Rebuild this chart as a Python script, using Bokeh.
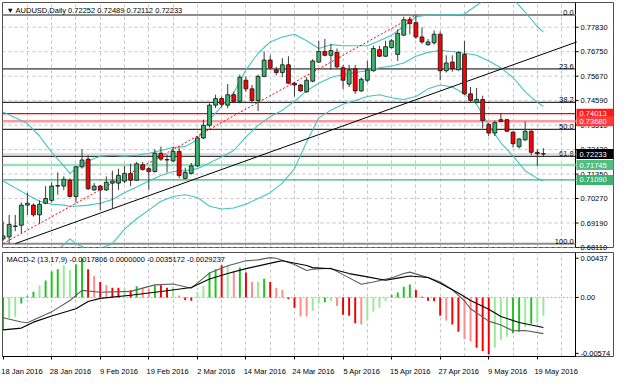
from bokeh.plotting import figure
from bokeh.layouts import column
from bokeh.models import (ColumnDataSource, FixedTicker, LinearAxis, Range1d, Grid,
                          Label, NumeralTickFormatter, CustomJSTickFormatter)
from bokeh.embed import file_html
from bokeh.resources import INLINE
from bokeh.core.properties import value

# ---------------- data ----------------
symbol = "AUDUSD,Daily"
date_labels = ["18 Jan 2016", "28 Jan 2016", "9 Feb 2016", "19 Feb 2016", "2 Mar 2016",
               "14 Mar 2016", "24 Mar 2016", "5 Apr 2016", "15 Apr 2016", "27 Apr 2016",
               "9 May 2016", "19 May 2016"]
date_label_bar = [0, 8, 16, 24, 32, 40, 48, 56, 64, 72, 80, 88]

open_ = [0.6849, 0.6858, 0.6904, 0.6909, 0.6998, 0.6998, 0.6955, 0.7006, 0.7019, 0.7082,
         0.7082, 0.7108, 0.7036, 0.7167, 0.7201, 0.7065, 0.7082, 0.7065, 0.7095, 0.7095,
         0.7104, 0.7138, 0.7108, 0.7176, 0.7159, 0.7146, 0.7227, 0.7197, 0.7193, 0.7235,
         0.7116, 0.7138, 0.7171, 0.7294, 0.7350, 0.7439, 0.7468, 0.7439, 0.7485, 0.7456,
         0.7549, 0.7511, 0.7460, 0.7566, 0.7638, 0.7595, 0.7583, 0.7617, 0.7536, 0.7528,
         0.7498, 0.7545, 0.7629, 0.7676, 0.7659, 0.7672, 0.7604, 0.7532, 0.7600, 0.7502,
         0.7549, 0.7591, 0.7684, 0.7655, 0.7693, 0.7663, 0.7748, 0.7816, 0.7803, 0.7740,
         0.7706, 0.7714, 0.7752, 0.7591, 0.7629, 0.7595, 0.7663, 0.7489, 0.7451, 0.7464,
         0.7354, 0.7316, 0.7375, 0.7375, 0.7320, 0.7256, 0.7286, 0.7324, 0.7231, 0.72252]
high = [0.6926, 0.6955, 0.6955, 0.7010, 0.7053, 0.7006, 0.7019, 0.7082, 0.7099, 0.7142,
        0.7125, 0.7116, 0.7171, 0.7244, 0.7218, 0.7095, 0.7087, 0.7125, 0.7150, 0.7159,
        0.7171, 0.7180, 0.7188, 0.7188, 0.7167, 0.7244, 0.7256, 0.7222, 0.7256, 0.7252,
        0.7163, 0.7184, 0.7303, 0.7375, 0.7447, 0.7485, 0.7477, 0.7532, 0.7498, 0.7574,
        0.7566, 0.7528, 0.7574, 0.7676, 0.7659, 0.7608, 0.7646, 0.7655, 0.7540, 0.7532,
        0.7562, 0.7642, 0.7723, 0.7731, 0.7710, 0.7689, 0.7617, 0.7617, 0.7617, 0.7562,
        0.7634, 0.7701, 0.7701, 0.7723, 0.7731, 0.7774, 0.7829, 0.7829, 0.7837, 0.7782,
        0.7731, 0.7769, 0.7765, 0.7659, 0.7659, 0.7676, 0.7723, 0.7519, 0.7515, 0.7481,
        0.7362, 0.7371, 0.7405, 0.7379, 0.7324, 0.7294, 0.7367, 0.7328, 0.7244, 0.72489]
low = [0.6841, 0.6828, 0.6883, 0.6875, 0.6955, 0.6947, 0.6917, 0.7002, 0.7010, 0.7044,
       0.7065, 0.7032, 0.7010, 0.7159, 0.7065, 0.7061, 0.6976, 0.7061, 0.6981, 0.7065,
       0.7095, 0.7082, 0.7104, 0.7150, 0.7065, 0.7142, 0.7193, 0.7142, 0.7188, 0.7116,
       0.7112, 0.7133, 0.7167, 0.7290, 0.7341, 0.7426, 0.7430, 0.7426, 0.7451, 0.7447,
       0.7498, 0.7447, 0.7413, 0.7562, 0.7595, 0.7570, 0.7562, 0.7532, 0.7477, 0.7498,
       0.7494, 0.7540, 0.7625, 0.7655, 0.7595, 0.7600, 0.7511, 0.7519, 0.7489, 0.7498,
       0.7540, 0.7587, 0.7651, 0.7651, 0.7689, 0.7634, 0.7744, 0.7752, 0.7731, 0.7710,
       0.7701, 0.7706, 0.7549, 0.7583, 0.7587, 0.7591, 0.7485, 0.7451, 0.7447, 0.7337,
       0.7303, 0.7303, 0.7367, 0.7320, 0.7252, 0.7248, 0.7282, 0.7218, 0.7171, 0.72112]
close = [0.6862, 0.6913, 0.6906, 0.6998, 0.7006, 0.6955, 0.7002, 0.7027, 0.7082, 0.7084,
         0.7112, 0.7036, 0.7167, 0.7197, 0.7070, 0.7082, 0.7065, 0.7099, 0.7104, 0.7129,
         0.7138, 0.7108, 0.7180, 0.7155, 0.7146, 0.7227, 0.7201, 0.7199, 0.7235, 0.7129,
         0.7142, 0.7171, 0.7294, 0.7350, 0.7439, 0.7468, 0.7443, 0.7485, 0.7456, 0.7562,
         0.7511, 0.7460, 0.7566, 0.7638, 0.7604, 0.7583, 0.7617, 0.7536, 0.7528, 0.7502,
         0.7549, 0.7634, 0.7676, 0.7659, 0.7680, 0.7608, 0.7549, 0.7595, 0.7502, 0.7553,
         0.7595, 0.7689, 0.7655, 0.7697, 0.7723, 0.7756, 0.7816, 0.7799, 0.7740, 0.7718,
         0.7718, 0.7752, 0.7591, 0.7625, 0.7600, 0.7672, 0.7489, 0.7460, 0.7464, 0.7371,
         0.7316, 0.7362, 0.7367, 0.7324, 0.7269, 0.7290, 0.7324, 0.7231, 0.7225, 0.72233]

# Bollinger band read-off (bar index, price)
band_bar = [0, 2, 4, 6, 8, 10, 11, 12, 14, 16, 18, 20, 22, 24, 26, 28, 30, 32, 34, 36,
            38, 40, 42, 44, 46, 48, 50, 52, 54, 56, 58, 60, 62, 64, 66, 68, 70, 72, 74, 76,
            78, 80, 82, 84, 86, 88, 89]
band_upper = [0.7409, 0.7383, 0.7358, 0.7303, 0.7231, 0.7171, 0.7138, 0.7159, 0.7193, 0.7214,
              0.7218, 0.7214, 0.7218, 0.7227, 0.7239, 0.7252, 0.7256, 0.7286, 0.7375, 0.7434,
              0.7494, 0.7595, 0.7668, 0.7718, 0.7740, 0.7752, 0.7723, 0.7689, 0.7706, 0.7701,
              0.7701, 0.7701, 0.7723, 0.7748, 0.7786, 0.7829, 0.7837, 0.7837, 0.7837, 0.7841,
              0.7880, 0.7913, 0.7935, 0.7909, 0.7850, 0.7786, 0.7761]
band_middle = [0.7104, 0.7074, 0.7044, 0.7015, 0.7002, 0.6998, 0.6993, 0.6993, 0.6998, 0.7006,
               0.7023, 0.7053, 0.7078, 0.7104, 0.7129, 0.7146, 0.7150, 0.7159, 0.7184, 0.7210,
               0.7239, 0.7299, 0.7350, 0.7388, 0.7417, 0.7456, 0.7502, 0.7536, 0.7561, 0.7574,
               0.7583, 0.7591, 0.7604, 0.7612, 0.7625, 0.7655, 0.7672, 0.7680, 0.7676, 0.7668,
               0.7659, 0.7634, 0.7604, 0.7561, 0.7498, 0.7451, 0.7434]
band_lower = [0.6798, 0.6764, 0.6731, 0.6726, 0.6773, 0.6824, 0.6849, 0.6828, 0.6803, 0.6807,
              0.6828, 0.6892, 0.6938, 0.6976, 0.7015, 0.7036, 0.7044, 0.7032, 0.6993, 0.6981,
              0.6985, 0.7002, 0.7027, 0.7053, 0.7095, 0.7159, 0.7277, 0.7383, 0.7417, 0.7443,
              0.7460, 0.7477, 0.7485, 0.7472, 0.7464, 0.7477, 0.7511, 0.7528, 0.7519, 0.7489,
              0.7443, 0.7350, 0.7273, 0.7214, 0.7150, 0.7116, 0.7104]

# Fibonacci retracement (low -> high)
fib_bar = [0, 68]
fib_price = [0.6828, 0.7837]
fib_levels = [0.0, 23.6, 38.2, 50.0, 61.8, 100.0]

# trend line anchors
trend_bar = [2, 94.5]
trend_price = [0.6828, 0.7718]

# horizontal levels with price tags
level_prices = [0.74013, 0.73680, 0.71745, 0.71090]
level_colors = ["#ff0000", "#ff9a9a", "#9edcbc", "#3cb371"]
level_widths = [1.3, 2.5, 2.5, 1.3]
tag_prices = [0.74013, 0.73680, 0.72233, 0.71745, 0.71090]
tag_colors = ["#ff1a1a", "#ff3c3c", "#000000", "#52bd80", "#3cb371"]

price_ticks = [0.68110, 0.69190, 0.70270, 0.71350, 0.72430, 0.73510, 0.74590, 0.75670,
               0.76750, 0.77830]
price_range = [0.6811, 0.7892]

# MACD-2 (13,17,9)
macd_params = "13,17,9"
macd_hist = [-0.00318, -0.00200, -0.00187, -0.00059, 0.00012, 0.00056, 0.00119, 0.00165, 0.00253, 0.00275,
             0.00312, 0.00268, 0.00321, 0.00378, 0.00275, 0.00212, 0.00150, 0.00119, 0.00094, 0.00094,
             0.00087, 0.00069, 0.00109, 0.00094, 0.00087, 0.00119, 0.00119, 0.00094, 0.00103, 0.00019,
             -0.00025, -0.00031, 0.00050, 0.00112, 0.00243, 0.00275, 0.00312, 0.00306, 0.00259, 0.00290,
             0.00243, 0.00150, 0.00150, 0.00181, 0.00150, 0.00094, 0.00072, -0.00016, -0.00100, -0.00184,
             -0.00184, -0.00131, -0.00059, -0.00047, -0.00031, -0.00084, -0.00168, -0.00178, -0.00250, -0.00262,
             -0.00225, -0.00137, -0.00100, -0.00037, 0.00025, 0.00047, 0.00103, 0.00125, 0.00072, 0.00006,
             -0.00031, -0.00037, -0.00178, -0.00225, -0.00262, -0.00334, -0.00406, -0.00427, -0.00490, -0.00521,
             -0.00552, -0.00490, -0.00412, -0.00381, -0.00349, -0.00334, -0.00287, -0.00256, -0.00240, -0.0017806]
macd_hist_kind = ["G", "g", "g", "G", "G", "G", "g", "G", "G", "G",
                  "g", "g", "G", "G", "R", "r", "R", "r", "R", "R",
                  "g", "R", "G", "r", "r", "G", "R", "R", "g", "r",
                  "R", "R", "g", "g", "G", "G", "R", "g", "r", "G",
                  "R", "r", "g", "G", "R", "r", "r", "R", "R", "r",
                  "r", "g", "g", "G", "g", "r", "R", "R", "R", "r",
                  "g", "g", "g", "g", "G", "G", "G", "G", "R", "R",
                  "R", "R", "R", "r", "R", "R", "r", "r", "R", "R",
                  "R", "g", "g", "g", "G", "G", "g", "G", "g", "g"]
macd_bar = [0, 3, 4, 8, 11, 13, 16, 21, 25, 28, 31, 34, 37, 40, 42, 44, 45, 48, 50, 51,
            54, 56, 59, 61, 64, 66, 67, 70, 72, 74, 76, 77, 80, 82, 84, 86, 89]
macd_line = [-0.00197, -0.00238, -0.00246, -0.00140, -0.00030, 0.00069, 0.00050, 0.00059, 0.00122, 0.00131,
             0.00090, 0.00237, 0.00309, 0.00356, 0.00365, 0.00387, 0.00381, 0.00320, 0.00262, 0.00275,
             0.00284, 0.00222, 0.00128, 0.00150, 0.00190, 0.00232, 0.00246, 0.00193, 0.00150, 0.00075,
             -0.00034, -0.00110, -0.00230, -0.00268, -0.00324, -0.00321, -0.0035172]
signal_bar = [0, 3, 5, 8, 12, 14, 16, 21, 26, 31, 34, 37, 40, 45, 46, 50, 51, 54, 57, 60,
              63, 65, 67, 70, 72, 75, 77, 80, 82, 85, 89]
signal_line = [-0.00315, -0.00298, -0.00240, -0.00180, -0.00110, -0.00040, -0.00009, 0.00022, 0.00058, 0.00097,
               0.00180, 0.00232, 0.00280, 0.00346, 0.00356, 0.00310, 0.00290, 0.00279, 0.00232, 0.00200,
               0.00168, 0.00188, 0.00208, 0.00194, 0.00138, 0.00044, -0.00030, -0.00115, -0.00185, -0.00243,
               -0.0029237]
macd_range = [-0.00574, 0.00437]
macd_axis_labels = ["-0.00574", "0.00", "0.00437"]

# ---------------- styling ----------------
FONT = "Liberation Sans"
FS = "7.5px"
X0, X1, X2 = -0.1, 94.3, 100.55      # chart area ends at X1; price-scale strip up to X2
FW = 611
GRID = "#c4c4c4"
BAND = "#43c3c3"
hist_colors = {"G": "#1cc41c", "g": "#98e898", "R": "#f00000", "r": "#ff8c8c"}
LABEL_STANDOFF = -33

n = len(close)
bars = list(range(n))
grid_bars = list(range(4, 93, 4))


def style_price_axis(ax, ticks, formatter):
    ax.ticker = FixedTicker(ticks=ticks)
    ax.formatter = formatter
    ax.major_label_text_font = FONT
    ax.major_label_text_font_size = FS
    ax.major_label_text_color = "black"
    ax.major_tick_line_color = None
    ax.major_tick_out = 0
    ax.major_tick_in = 0
    ax.minor_tick_line_color = None
    ax.axis_line_color = None
    ax.major_label_standoff = LABEL_STANDOFF


# ---------------- main price panel ----------------
p = figure(frame_width=FW, frame_height=245, x_range=Range1d(X0, X2),
           y_range=Range1d(price_range[0], price_range[1]),
           x_axis_location=None, y_axis_location="right",
           output_backend="svg", toolbar_location=None,
           min_border_left=2, min_border_top=2, min_border_bottom=5, min_border_right=1)
p.xgrid.visible = False
p.ygrid.visible = False
p.background_fill_color = "white"
p.border_fill_color = "white"
p.outline_line_color = "#505050"

p.add_layout(Grid(dimension=0, ticker=FixedTicker(ticks=grid_bars),
                  grid_line_color=GRID, grid_line_dash="3 3"))
p.segment(x0=X0, x1=X1, y0=price_ticks, y1=price_ticks, line_color=GRID, line_dash="3 3")

style_price_axis(p.yaxis[0], price_ticks, NumeralTickFormatter(format="0.00000"))
# price-scale edge and its tick marks
p.vspan(x=[X1], line_color="black", line_width=1)
p.segment(x0=X1, x1=X1 + 0.5, y0=price_ticks, y1=price_ticks, line_color="black")

# fibonacci levels
fib_hi, fib_lo = fib_price[1], fib_price[0]
fib_vals = [fib_hi - lv / 100.0 * (fib_hi - fib_lo) for lv in fib_levels]
fib_cols = ["#8c8c8c" if lv in (0.0, 100.0) else "#000000" for lv in fib_levels]
fib_w = [2 if lv in (0.0, 100.0) else 1 for lv in fib_levels]
p.segment(x0=X0, x1=X1, y0=fib_vals, y1=fib_vals, line_color=fib_cols, line_width=fib_w)
p.text(x=[X1] * len(fib_levels), y=fib_vals, text=[f"{lv:.1f}" for lv in fib_levels],
       text_align="right", text_baseline="bottom", x_offset=-2,
       text_font=value(FONT), text_font_size=FS, text_color="black")

# horizontal levels + bid line
p.segment(x0=X0, x1=X1, y0=level_prices, y1=level_prices,
          line_color=level_colors, line_width=level_widths)
p.segment(x0=X0, x1=X1, y0=close[-1], y1=close[-1], line_color="#bdbdbd", line_width=1)

# bollinger bands
for arr in (band_upper, band_middle, band_lower):
    p.line(band_bar, arr, line_color=BAND, line_width=1.1)

# trend lines
p.line(trend_bar, trend_price, line_color="black", line_width=1)
p.line(fib_bar, fib_price, line_color="#ff0000", line_width=1, line_dash="2 2")

# candles
src = ColumnDataSource(dict(
    x=bars, o=open_, h=high, l=low, c=close,
    top=[max(o, c) for o, c in zip(open_, close)],
    bot=[min(o, c) for o, c in zip(open_, close)],
    col=["#3cb371" if c >= o else "#ff0000" for o, c in zip(open_, close)]))
p.segment(x0="x", y0="l", x1="x", y1="h", source=src, line_color="#3a3a3a", line_width=1)
p.vbar(x="x", width=0.64, top="top", bottom="bot", fill_color="col",
       line_color="#111111", line_width=0.8, source=src)

# price tags on the price scale (drawn above the scale labels)
tag_src = ColumnDataSource(dict(y=tag_prices, col=tag_colors,
                                txt=[f"{v:.5f}" for v in tag_prices]))
p.rect(x=(X1 + 0.15 + X2) / 2, y="y", width=X2 - X1 - 0.15, height=10, height_units="screen",
       fill_color="col", line_color=None, source=tag_src, level="overlay")
p.text(x=X1, y="y", text="txt", x_offset=4, text_baseline="middle", text_align="left",
       text_color="white", text_font=value(FONT), text_font_size=FS, source=tag_src,
       level="overlay")

title_txt = "\u25bc " + symbol + "  " + " ".join(f"{v:.5f}" for v in (open_[-1], high[-1], low[-1], close[-1]))
p.add_layout(Label(x=X0, y=price_range[1], x_offset=4, y_offset=-3, text=title_txt,
                   text_font=FONT, text_font_size=FS, text_color="black", text_baseline="top"))

# ---------------- MACD panel ----------------
q = figure(frame_width=FW, frame_height=104, x_range=p.x_range,
           y_range=Range1d(macd_range[0], macd_range[1]),
           x_axis_location=None, y_axis_location="right",
           output_backend="svg", toolbar_location=None,
           min_border_left=2, min_border_top=0, min_border_bottom=0, min_border_right=1)
q.xgrid.visible = False
q.ygrid.visible = False
q.background_fill_color = "white"
q.outline_line_color = "#505050"
q.add_layout(Grid(dimension=0, ticker=FixedTicker(ticks=grid_bars),
                  grid_line_color=GRID, grid_line_dash="3 3"))
q.segment(x0=X0, x1=X1, y0=0.0, y1=0.0, line_color="#b0b0b0", line_dash="2 2")

q.vbar(x=bars, width=0.32, top=macd_hist, bottom=0,
       fill_color=[hist_colors[k] for k in macd_hist_kind], line_color=None)
q.line(macd_bar, macd_line, line_color="#5c5c5c", line_width=1.1)
q.line(signal_bar, signal_line, line_color="#000000", line_width=1.1)

span = macd_range[1] - macd_range[0]
macd_ticks = [macd_range[0] + 0.03 * span, 0.0, macd_range[1] - 0.055 * span]
style_price_axis(q.yaxis[0], macd_ticks,
                 CustomJSTickFormatter(args=dict(lbls=macd_axis_labels), code="return lbls[index]"))
q.vspan(x=[X1], line_color="black", line_width=1)
q.segment(x0=X1, x1=X1 + 0.5, y0=macd_ticks, y1=macd_ticks, line_color="black")

ax_ticks = LinearAxis(ticker=FixedTicker(ticks=date_label_bar), bounds=(X0, X1),
                      formatter=CustomJSTickFormatter(code='return ""'),
                      major_tick_out=3, major_tick_in=0, minor_tick_line_color=None,
                      major_label_standoff=0, major_label_text_font_size="1px",
                      axis_line_color="black")
q.add_layout(ax_ticks, "below")
ax_lbl = LinearAxis(ticker=FixedTicker(ticks=[b + 3.1 for b in date_label_bar]),
                    formatter=CustomJSTickFormatter(args=dict(lbls=date_labels), code="return lbls[index]"),
                    major_tick_line_color=None, minor_tick_line_color=None, axis_line_color=None,
                    major_label_standoff=1, major_label_text_font=FONT,
                    major_label_text_font_size=FS, major_label_text_color="black")
q.add_layout(ax_lbl, "below")

macd_title = (f"MACD-2 ({macd_params}) {macd_hist[-1]:.7f} {0.0:.7f} "
              f"{macd_line[-1]:.7f} {signal_line[-1]:.7f}")
q.add_layout(Label(x=X0, y=macd_range[1], x_offset=4, y_offset=-2, text=macd_title,
                   text_font=FONT, text_font_size=FS, text_color="black", text_baseline="top"))

layout = column(p, q)
open("out.html", "w").write(file_html(layout, INLINE))
